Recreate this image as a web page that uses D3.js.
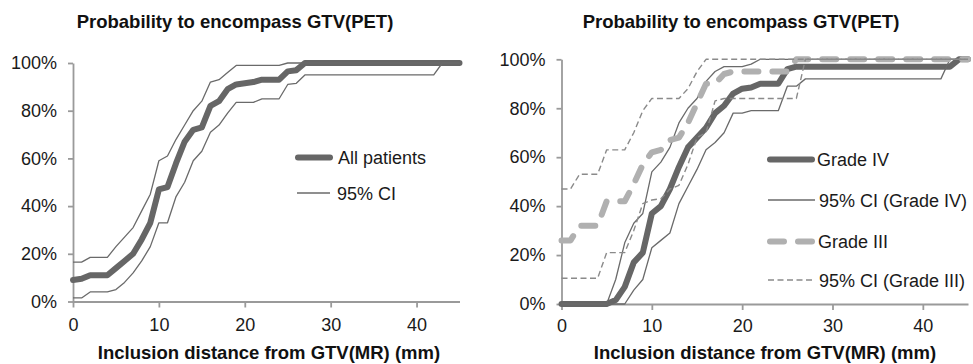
<!DOCTYPE html>
<html><head><meta charset="utf-8">
<script src="https://cdn.jsdelivr.net/npm/d3@7/dist/d3.min.js"></script>
<style>
body{margin:0;background:#fff;}
svg text{font-family:Arial,"Liberation Sans",sans-serif;}
</style></head>
<body><svg id="c" width="973" height="364"></svg>
<script>
// ---- data ----
const distance = [0,1,2,3,4,5,6,7,8,9,10,11,12,13,14,15,16,17,18,19,20,21,22,23,24,25,26,27,28,29,30,31,32,33,34,35,36,37,38,39,40,41,42,43,44,45];
const xTicks = [0,10,20,30,40];
const yTicks = [0,20,40,60,80,100];
const chartTitle = "Probability to encompass GTV(PET)";
const xTitle = "Inclusion distance from GTV(MR) (mm)";

// left panel (%)
const allPatients = [9,9.5,11,11,11,14,17,20,26,33,47,48,58,67,72,73,82,84,89,91,91.5,92,93,93,93,96.5,97,100,100,100,100,100,100,100,100,100,100,100,100,100,100,100,100,100,100,100];
const allUpper    = [16.5,16.5,18.5,18.5,18.5,23,27,31,38,45,59,61,68,74,80,84,92,93,96,99,99,99,99,99,99,100,100,100,100,100,100,100,100,100,100,100,100,100,100,100,100,100,100,100,100,100];
const allLower    = [1.5,1.5,4,4,4,5,8,12,17,23,33,33,44,50,59,63,71,74,79,83.5,83.5,83.5,85,85,85,91,91.5,95,95,95,95,95,95,95,95,95,95,95,95,95,95,95,95,100,100,100];

// right panel (%)
const gradeIV      = [0,0,0,0,0,0,1.6,7,17,21,37,40,47,56,64,68,72,78,81,86,88,88.5,90,90,90,96,97,97,97,97,97,97,97,97,97,97,97,97,97,97,97,97,97,97,100,100];
const gradeIVUpper = [0,0,0,0,0,0,10,25,33,37,54,58,64,74,80,84,91,95,97,97,97,98,100,100,100,100,100,100,100,100,100,100,100,100,100,100,100,100,100,100,100,100,100,100,100,100];
const gradeIVLower = [0,0,0,0,0,0,0,0,5.7,10,23,26,29,41,48,55,63,66,70,78,78,79,79,79,79,89,89,92,92,92,92,92,92,92,92,92,92,92,92,92,92,92,92,100,100,100];
const gradeIII      = [26,26,32,32,32,42,42,42,49,57,62,63,67,68,74,82,90,90,94,95,95,95,95,95,95,95,100,100,100,100,100,100,100,100,100,100,100,100,100,100,100,100,100,100,100,100];
const gradeIIIUpper = [47,47,53,53,53,63,63,63,70,79,84,84,84,84,88,95,100,100,100,100,100,100,100,100,100,100,100,100,100,100,100,100,100,100,100,100,100,100,100,100,100,100,100,100,100,100];
const gradeIIILower = [10.5,10.5,10.5,10.5,10.5,21,21,21,30,41,42.5,43,47,48.5,57,68,70,83,84,84,84,84,84,84,84,84,84,100,100,100,100,100,100,100,100,100,100,100,100,100,100,100,100,100,100,100];

// ---- styles ----
const S = {
  main:   {stroke:"#666666", width:6, dash:null, cap:"round"},
  ci:     {stroke:"#6a6a6a", width:1.3, dash:null, cap:"butt"},
  g3:     {stroke:"#b0b0b0", width:6, dash:"14,14", cap:"round"},
  ci3:    {stroke:"#8a8a8a", width:1.4, dash:"6,3.5", cap:"butt"}
};

const svg = d3.select("#c");

function panel(cfg){
  const x = d3.scaleLinear().domain([0,45]).range(cfg.xr);
  const y = d3.scaleLinear().domain([0,100]).range(cfg.yr);
  const g = svg.append("g");

  // axes
  const ya = g.append("g").attr("transform",`translate(${cfg.xr[0]},0)`)
    .call(d3.axisLeft(y).tickValues(yTicks).tickFormat(d=>d+"%").tickSize(5).tickSizeOuter(0).tickPadding(11));
  const xa = g.append("g").attr("transform",`translate(0,${cfg.yr[0]})`)
    .call(d3.axisBottom(x).tickValues(xTicks).tickSize(6).tickSizeOuter(0).tickPadding(cfg.xpad));
  [ya,xa].forEach(a=>{
    a.selectAll("path,line").attr("stroke","#9a9a9a").attr("stroke-width",1.8);
    a.selectAll("text").attr("fill","#1a1a1a").style("font-size","18px");
  });

  const line = d3.line().x((d,i)=>x(distance[i])).y(d=>y(d));
  cfg.series.forEach(s=>{
    g.append("path").datum(s.values).attr("d",line)
      .attr("fill","none").attr("stroke",s.style.stroke).attr("stroke-width",s.style.width)
      .attr("stroke-linejoin","round").attr("stroke-linecap",s.style.cap)
      .attr("stroke-dasharray",s.style.dash);
  });

  // titles
  g.append("text").attr("x",cfg.titleX).attr("y",28).attr("text-anchor","middle")
    .style("font-size","18.5px").style("font-weight","bold").attr("fill","#111").text(chartTitle);
  g.append("text").attr("x",cfg.xTitleX).attr("y",359).attr("text-anchor","middle")
    .style("font-size","18.5px").style("font-weight","bold").attr("fill","#111").text(xTitle);

  // legend
  cfg.legend.forEach(l=>{
    g.append("line").attr("x1",l.x1).attr("x2",l.x2).attr("y1",l.y).attr("y2",l.y)
      .attr("stroke",l.style.stroke).attr("stroke-width",l.style.width)
      .attr("stroke-linecap",l.style.cap).attr("stroke-dasharray",l.style.dash);
    g.append("text").attr("x",l.tx).attr("y",l.y+6.5).style("font-size","18px")
      .attr("fill","#1a1a1a").text(l.label);
  });
}

panel({
  xr:[73,459.5], yr:[301.5,63], xpad:11, titleX:235, xTitleX:269,
  series:[
    {values:allPatients, style:S.main},
    {values:allUpper, style:S.ci},
    {values:allLower, style:S.ci}
  ],
  legend:[
    {label:"All patients", style:S.main, x1:298, x2:330, y:157.5, tx:338},
    {label:"95% CI", style:S.ci, x1:297, x2:330, y:193, tx:337}
  ]
});

panel({
  xr:[561.5,968], yr:[304,59.3], xpad:9, titleX:741, xTitleX:765,
  series:[
    {values:gradeIV, style:S.main},
    {values:gradeIVUpper, style:S.ci},
    {values:gradeIVLower, style:S.ci},
    {values:gradeIII, style:S.g3},
    {values:gradeIIIUpper, style:S.ci3},
    {values:gradeIIILower, style:S.ci3}
  ],
  legend:[
    {label:"Grade IV", style:S.main, x1:770, x2:812, y:159.5, tx:817},
    {label:"95% CI (Grade IV)", style:S.ci, x1:768, x2:815, y:200, tx:819},
    {label:"Grade III", style:{stroke:"#b0b0b0", width:6, dash:"14,14", cap:"round"}, x1:770, x2:812, y:241.5, tx:818},
    {label:"95% CI (Grade III)", style:S.ci3, x1:768, x2:815, y:280, tx:819}
  ]
});
</script></body></html>
